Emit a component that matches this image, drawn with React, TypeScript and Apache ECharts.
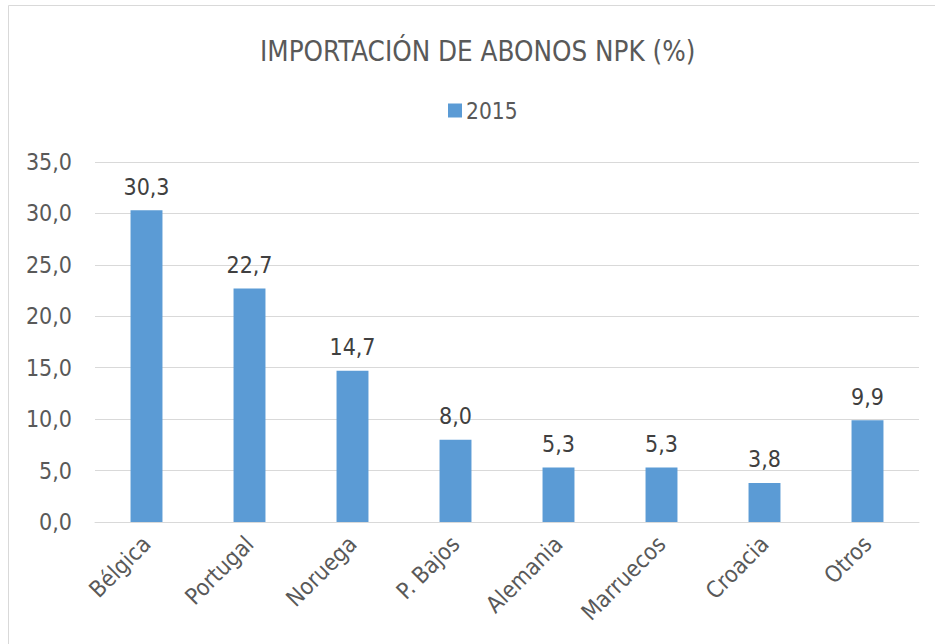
import React, { useEffect, useRef } from "react";
import * as echarts from "echarts";

const categories = ["Bélgica", "Portugal", "Noruega", "P. Bajos", "Alemania", "Marruecos", "Croacia", "Otros"];
const values2015 = [30.3, 22.7, 14.7, 8.0, 5.3, 5.3, 3.8, 9.9];
const seriesName = "2015";
const titleText = "IMPORTACIÓN DE ABONOS NPK (%)";

const FONT = "'DejaVu Sans Condensed', 'DejaVu Sans', sans-serif";
const TXT = "#595959";
const fmt = (v: number) => v.toFixed(1).replace(".", ",");

export default function App() {
  const ref = useRef<HTMLDivElement>(null);
  useEffect(() => {
    if (!ref.current) return;
    const chart = echarts.init(ref.current, undefined, { renderer: "svg" });
    chart.setOption({
      animation: false,
      backgroundColor: "#ffffff",
      graphic: [
        {
          type: "rect",
          shape: { x: 8.5, y: 5.5, width: 940, height: 660 },
          style: { fill: "none", stroke: "#d9d9d9", lineWidth: 1 },
          silent: true,
        },
      ],
      title: {
        text: titleText,
        left: 255,
        top: 32,
        textStyle: { fontFamily: FONT, fontSize: 27.5, fontWeight: "normal", color: TXT },
      },
      legend: {
        data: [seriesName],
        top: 94,
        left: 443,
        itemWidth: 14,
        itemHeight: 14,
        itemGap: 6,
        icon: "rect",
        textStyle: { fontFamily: FONT, fontSize: 22.5, color: TXT, padding: [0, 0, 0, -1] },
      },
      grid: { left: 95, right: 16, top: 162, bottom: 122, containLabel: false },
      xAxis: {
        type: "category",
        data: categories,
        axisLine: { show: true, lineStyle: { color: "#d9d9d9", width: 1 } },
        axisTick: { show: false },
        axisLabel: {
          rotate: 45,
          fontFamily: FONT,
          fontSize: 23,
          color: TXT,
          margin: 18,
          interval: 0,
        },
      },
      yAxis: {
        type: "value",
        min: 0,
        max: 35,
        interval: 5,
        axisLine: { show: false },
        axisTick: { show: false },
        splitLine: { lineStyle: { color: "#d9d9d9", width: 1 } },
        axisLabel: {
          formatter: (v: number) => fmt(v),
          fontFamily: FONT,
          fontSize: 23,
          color: TXT,
          margin: 23,
        },
      },
      series: [
        {
          name: seriesName,
          type: "bar",
          data: values2015,
          barWidth: "31%",
          itemStyle: { color: "#5b9bd5" },
          label: {
            show: true,
            position: "top",
            distance: 12,
            formatter: (p: any) => fmt(p.value),
            fontFamily: FONT,
            fontSize: 23,
            color: "#404040",
          },
        },
      ],
    });
    return () => chart.dispose();
  }, []);
  return (
    <div
      ref={ref}
      style={{ position: "fixed", left: 0, top: 0, width: 935, height: 644 }}
    />
  );
}
